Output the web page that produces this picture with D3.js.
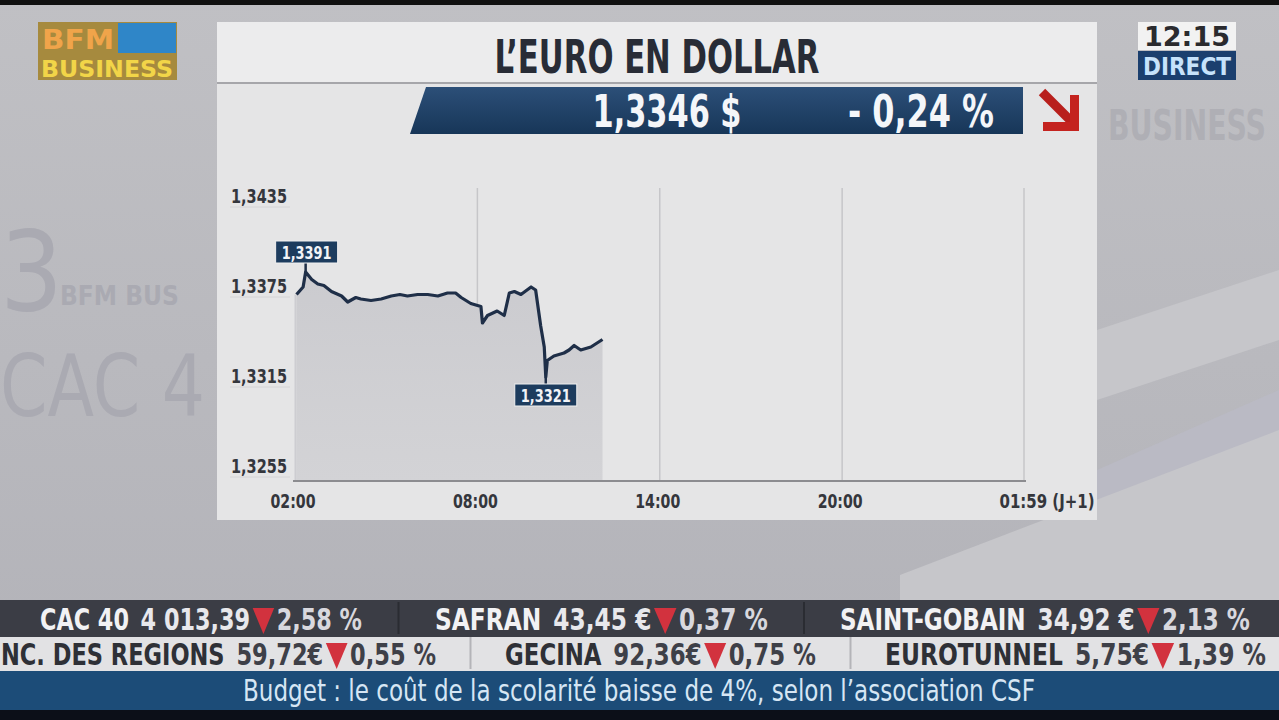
<!DOCTYPE html>
<html lang="fr">
<head>
<meta charset="utf-8">
<title>L'euro en dollar</title>
<script src="https://cdn.jsdelivr.net/npm/d3@7"></script>
<style>
  body { margin: 0; background: #b6b6bb; overflow: hidden; }
  svg text { font-family: "Liberation Sans Narrow", "DejaVu Sans Condensed", "Liberation Sans", sans-serif; font-weight: bold; }
</style>
</head>
<body>
<script>
// --- data ---
var times = ["02:03","02:16","02:21","02:33","02:45","02:57","03:12","03:32","03:44","04:00","04:10",
             "04:30","04:50","05:10","05:27","05:42","06:02","06:22","06:42","07:01","07:17","07:28",
             "07:47","08:07","08:10","08:20","08:39","08:53","09:03","09:13","09:26","09:46","09:55",
             "10:05","10:12","10:15","10:18","10:31","10:51","11:01","11:11","11:24","11:44","12:07"];
var values = [1.3376,1.3381,1.3391,1.3386,1.3383,1.3382,1.3378,1.3375,1.3371,1.3374,1.3373,
              1.3372,1.3373,1.3375,1.3376,1.3375,1.3376,1.3376,1.3375,1.3377,1.3377,1.3374,
              1.3370,1.3368,1.3357,1.3362,1.3365,1.3362,1.3377,1.3378,1.3376,1.3381,1.3379,
              1.3355,1.3341,1.3321,1.3332,1.3335,1.3337,1.3339,1.3342,1.3339,1.3341,1.3346];
var yTicks = [1.3435, 1.3375, 1.3315, 1.3255];
var xTicks = [2, 8, 14, 20, 25.983];
var xTickLabels = ["02:00", "08:00", "14:00", "20:00", "01:59 (J+1)"];
var title = "L\u2019EURO EN DOLLAR";
var lastPrice = "1,3346 $";
var change = "- 0,24 %";

var tickRow1 = [["CAC 40", "4 013,39", "2,58 %"], ["SAFRAN", "43,45 \u20ac", "0,37 %"], ["SAINT-GOBAIN", "34,92 \u20ac", "2,13 %"]];
var tickRow2 = [["NC. DES REGIONS", "59,72\u20ac", "0,55 %"], ["GECINA", "92,36\u20ac", "0,75 %"], ["EUROTUNNEL", "5,75\u20ac", "1,39 %"]];
var headline = "Budget : le co\u00fbt de la scolarit\u00e9 baisse de 4%, selon l\u2019association CSF";

var w = 1279, h = 720;
var fmt = function (v) { return d3.format(".4f")(v).replace(".", ","); };
var hrs = function (s) { var p = s.split(":"); return +p[0] + p[1] / 60; };
var dataset = times.map(function (t, i) { return { t: hrs(t), v: values[i] }; });

var svg = d3.select("body").append("svg").attr("width", w).attr("height", h);
var defs = svg.append("defs");

var bg = defs.append("linearGradient").attr("id", "bg").attr("x1", 0).attr("x2", 0).attr("y1", 0).attr("y2", 1);
bg.append("stop").attr("offset", 0).attr("stop-color", "#c0c0c4");
bg.append("stop").attr("offset", 1).attr("stop-color", "#b2b2b8");
var bar = defs.append("linearGradient").attr("id", "bar").attr("x1", 0).attr("x2", 0).attr("y1", 0).attr("y2", 1);
bar.append("stop").attr("offset", 0).attr("stop-color", "#2c4f78");
bar.append("stop").attr("offset", 1).attr("stop-color", "#173658");
var area = defs.append("linearGradient").attr("id", "area").attr("x1", 0).attr("x2", 0).attr("y1", 0).attr("y2", 1);
area.append("stop").attr("offset", 0).attr("stop-color", "#cbcbcf");
area.append("stop").attr("offset", 1).attr("stop-color", "#d3d3d6");

// background
svg.append("rect").attr("width", w).attr("height", h).attr("fill", "url(#bg)");
svg.append("rect").attr("width", w).attr("height", 5).attr("fill", "#111");

// faint studio backdrop
var ghost = svg.append("g").attr("fill", "#aaaab2").style("font-family", "'DejaVu Sans', sans-serif");
ghost.append("text").attr("x", 0).attr("y", 310).attr("font-size", 110).style("font-weight", "normal").text("3");
ghost.append("text").attr("x", 60).attr("y", 305).attr("font-size", 26).text("BFM BUS");
ghost.append("text").attr("x", 0).attr("y", 416).attr("font-size", 86).style("font-weight", "normal")
  .attr("textLength", 205).attr("lengthAdjust", "spacingAndGlyphs").text("CAC 4");
ghost.append("text").attr("x", 1108).attr("y", 140).attr("font-size", 42).attr("fill", "#afafb5")
  .attr("textLength", 158).attr("lengthAdjust", "spacingAndGlyphs").text("BUSINESS");
svg.append("path").attr("d", "M1097,330 L1279,270 L1279,340 L1097,400 Z").attr("fill", "#c6c6ca");
svg.append("path").attr("d", "M1097,470 L1279,390 L1279,470 L1097,540 Z").attr("fill", "#babac4");
svg.append("path").attr("d", "M900,575 L1279,430 L1279,600 L900,600 Z").attr("fill", "#c6c6ca");

// logo
var logo = svg.append("g");
logo.append("rect").attr("x", 38).attr("y", 22).attr("width", 139).attr("height", 58).attr("fill", "#a68a3e");
logo.append("rect").attr("x", 118).attr("y", 23).attr("width", 58).attr("height", 30).attr("fill", "#2f86c8");
logo.append("text").attr("x", 42).attr("y", 49).attr("font-size", 27).attr("fill", "#f0a44a").attr("textLength", 72).attr("lengthAdjust", "spacingAndGlyphs").text("BFM");
logo.append("text").attr("x", 41).attr("y", 77).attr("font-size", 23).attr("fill", "#f2d548").attr("textLength", 132).attr("lengthAdjust", "spacingAndGlyphs").text("BUSINESS");

// clock
svg.append("rect").attr("x", 1138).attr("y", 22).attr("width", 98).attr("height", 28).attr("fill", "#f2f2f2");
svg.append("text").attr("x", 1187).attr("y", 46).attr("text-anchor", "middle").attr("font-size", 26).attr("fill", "#2a2a2e").style("font-family", "'DejaVu Sans', sans-serif").attr("textLength", 86).attr("lengthAdjust", "spacingAndGlyphs").text("12:15");
svg.append("rect").attr("x", 1138).attr("y", 51).attr("width", 98).attr("height", 29).attr("fill", "#1b3f6e");
svg.append("text").attr("x", 1187).attr("y", 75).attr("text-anchor", "middle").attr("font-size", 24).attr("fill", "#c6e2fb").style("font-family", "'DejaVu Sans', sans-serif").attr("textLength", 88).attr("lengthAdjust", "spacingAndGlyphs").text("DIRECT");

// panel
svg.append("rect").attr("x", 217).attr("y", 22).attr("width", 880).attr("height", 498).attr("fill", "#e5e5e6");
svg.append("rect").attr("x", 217).attr("y", 22).attr("width", 880).attr("height", 60).attr("fill", "#ececed");
svg.append("rect").attr("x", 217).attr("y", 82).attr("width", 880).attr("height", 2).attr("fill", "#a6a6aa");
svg.append("text").attr("x", 657).attr("y", 73).attr("text-anchor", "middle").attr("font-size", 46).attr("fill", "#282c36")
  .attr("textLength", 325).attr("lengthAdjust", "spacingAndGlyphs").text(title);

// price bar
svg.append("path").attr("d", "M426,87 L1023,87 L1023,134 L410,134 Z").attr("fill", "url(#bar)");
svg.append("text").attr("x", 667).attr("y", 127).attr("text-anchor", "middle").attr("font-size", 45).attr("fill", "#f4f6f9")
  .attr("textLength", 149).attr("lengthAdjust", "spacingAndGlyphs").text(lastPrice);
svg.append("text").attr("x", 921).attr("y", 127).attr("text-anchor", "middle").attr("font-size", 45).attr("fill", "#f4f6f9")
  .attr("textLength", 146).attr("lengthAdjust", "spacingAndGlyphs").text(change);
svg.append("path").attr("d", "M1042,92 L1073,123").attr("stroke", "#b81f1c").attr("stroke-width", 9).attr("fill", "none");
svg.append("path").attr("d", "M1070,95 L1079,95 L1079,131 L1043,131 L1043,122 L1070,122 Z").attr("fill", "#c4231f");

// chart scales
var x = d3.scaleLinear().domain([2, 25.983]).range([295, 1024]);
var y = d3.scaleLinear().domain([1.3255, 1.3435]).range([476, 206]);
var plotBottom = 481;

// time grid
svg.selectAll("line.grid").data(xTicks.slice(1)).enter().append("line").attr("class", "grid")
  .attr("x1", function (d) { return x(d); }).attr("x2", function (d) { return x(d); })
  .attr("y1", 188).attr("y2", plotBottom).attr("stroke", "#c6c6c9").attr("stroke-width", 1.5);

// area + line
var ext = d3.extent(dataset, function (d) { return d.t; });
svg.append("path").datum(dataset)
  .attr("d", d3.area().x(function (d) { return x(d.t); }).y0(plotBottom).y1(function (d) { return y(d.v); }))
  .attr("fill", "url(#area)");
svg.append("rect").attr("x", x(ext[0]) - 2).attr("y", y(values[0])).attr("width", 2).attr("height", plotBottom - y(values[0])).attr("fill", "#cdcdd1");
svg.append("path").datum(dataset)
  .attr("d", d3.line().x(function (d) { return x(d.t); }).y(function (d) { return y(d.v); }))
  .attr("fill", "none").attr("stroke", "#1f2f48").attr("stroke-width", 3.2).attr("stroke-linejoin", "round");

// axis baseline
svg.append("line").attr("x1", 293).attr("x2", 1026).attr("y1", plotBottom).attr("y2", plotBottom).attr("stroke", "#8c8c90").attr("stroke-width", 2);

// y tick labels
var yt = svg.selectAll("g.ytick").data(yTicks).enter().append("g").attr("class", "ytick");
yt.append("line").attr("x1", 230).attr("x2", 290).attr("y1", function (d) { return y(d) + 1; }).attr("y2", function (d) { return y(d) + 1; })
  .attr("stroke", "#d4d4d6").attr("stroke-width", 1);
yt.append("text").attr("x", 287).attr("y", function (d) { return y(d) - 3; }).attr("text-anchor", "end")
  .attr("font-size", 19).attr("fill", "#34363c").attr("textLength", 56).attr("lengthAdjust", "spacingAndGlyphs").text(fmt);

// x tick labels
svg.selectAll("text.xtick").data(xTicks).enter().append("text").attr("class", "xtick")
  .attr("x", function (d, i) { return i === xTicks.length - 1 ? x(d) + 23 : x(d) - 2; }).attr("y", 508)
  .attr("text-anchor", "middle").attr("font-size", 19).attr("fill", "#34363c")
  .attr("textLength", function (d, i) { return i === xTicks.length - 1 ? 95 : 45; }).attr("lengthAdjust", "spacingAndGlyphs")
  .text(function (d, i) { return xTickLabels[i]; });

// max / min flags
var hi = d3.greatest(dataset, function (d) { return d.v; });
var lo = d3.least(dataset, function (d) { return d.v; });
function flag(d, above) {
  var cx = x(d.t), cy = y(d.v);
  var bx = above ? cx + 1 : cx;
  var by = above ? cy - 31 : cy + 7;
  svg.append("line").attr("x1", cx).attr("x2", cx).attr("y1", cy).attr("y2", above ? by + 22 : by)
    .attr("stroke", "#1f2f48").attr("stroke-width", 2.5);
  svg.append("rect").attr("x", bx - 31).attr("y", by).attr("width", 62).attr("height", 22).attr("fill", "#1d3c5e")
    .attr("stroke", "#f0f0f0").attr("stroke-width", 1);
  svg.append("text").attr("x", bx).attr("y", by + 18).attr("text-anchor", "middle").attr("font-size", 18).attr("fill", "#f2f4f8")
    .attr("textLength", 50).attr("lengthAdjust", "spacingAndGlyphs").text(fmt(d.v));
}
flag(hi, true);
flag(lo, false);

// ticker
svg.append("rect").attr("y", 600).attr("width", w).attr("height", 37).attr("fill", "#3b3d45");
svg.append("rect").attr("y", 637).attr("width", w).attr("height", 34).attr("fill", "#e2e2e4");
svg.append("rect").attr("y", 671).attr("width", w).attr("height", 40).attr("fill", "#1c4c78");
svg.append("rect").attr("y", 710).attr("width", w).attr("height", 10).attr("fill", "#0c0f18");

function tickerRow(items, cy, cols, sepCol, spans) {
  var edges = [];
  items.forEach(function (it, i) {
    var g = svg.append("g");
    var parts = [
      { s: it[0], c: cols[0], gap: 14 },
      { s: it[1], c: cols[1], gap: 3 },
      { s: "tri", gap: 3 },
      { s: it[2], c: cols[2], gap: 0 }
    ];
    var cx = 0;
    parts.forEach(function (p) {
      if (p.s === "tri") {
        g.append("path").attr("d", "M" + cx + "," + (cy - 22) + " l26,0 l-13,26 Z").attr("fill", "#d2323e");
        cx += 26 + p.gap;
      } else {
        var t = g.append("text").attr("x", cx).attr("y", cy).attr("font-size", 30).attr("fill", p.c).text(p.s);
        cx += t.node().getComputedTextLength() + p.gap;
      }
    });
    var sx = (spans[i][1] - spans[i][0]) / cx;
    g.attr("transform", "translate(" + spans[i][0] + ",0) scale(" + sx + ",1)");
    edges.push(spans[i]);
  });
  for (var i = 1; i < edges.length; i++) {
    svg.append("rect").attr("x", (edges[i - 1][1] + edges[i][0]) / 2 - 1).attr("y", cy - 28).attr("width", 2).attr("height", 32).attr("fill", sepCol);
  }
}
tickerRow(tickRow1, 630, ["#f2f2f4", "#e8e8ec", "#d8d8de"], "#2a2c32", [[40, 362], [435, 768], [840, 1250]]);
tickerRow(tickRow2, 665, ["#2e3036", "#3e4048", "#3e4048"], "#b4b4b8", [[1, 436], [505, 816], [885, 1266]]);

svg.append("text").attr("x", 639).attr("y", 701).attr("text-anchor", "middle").attr("font-size", 30).attr("fill", "#d6e6f4")
  .style("font-weight", "normal").attr("textLength", 792).attr("lengthAdjust", "spacingAndGlyphs").text(headline);
</script>
</body>
</html>
